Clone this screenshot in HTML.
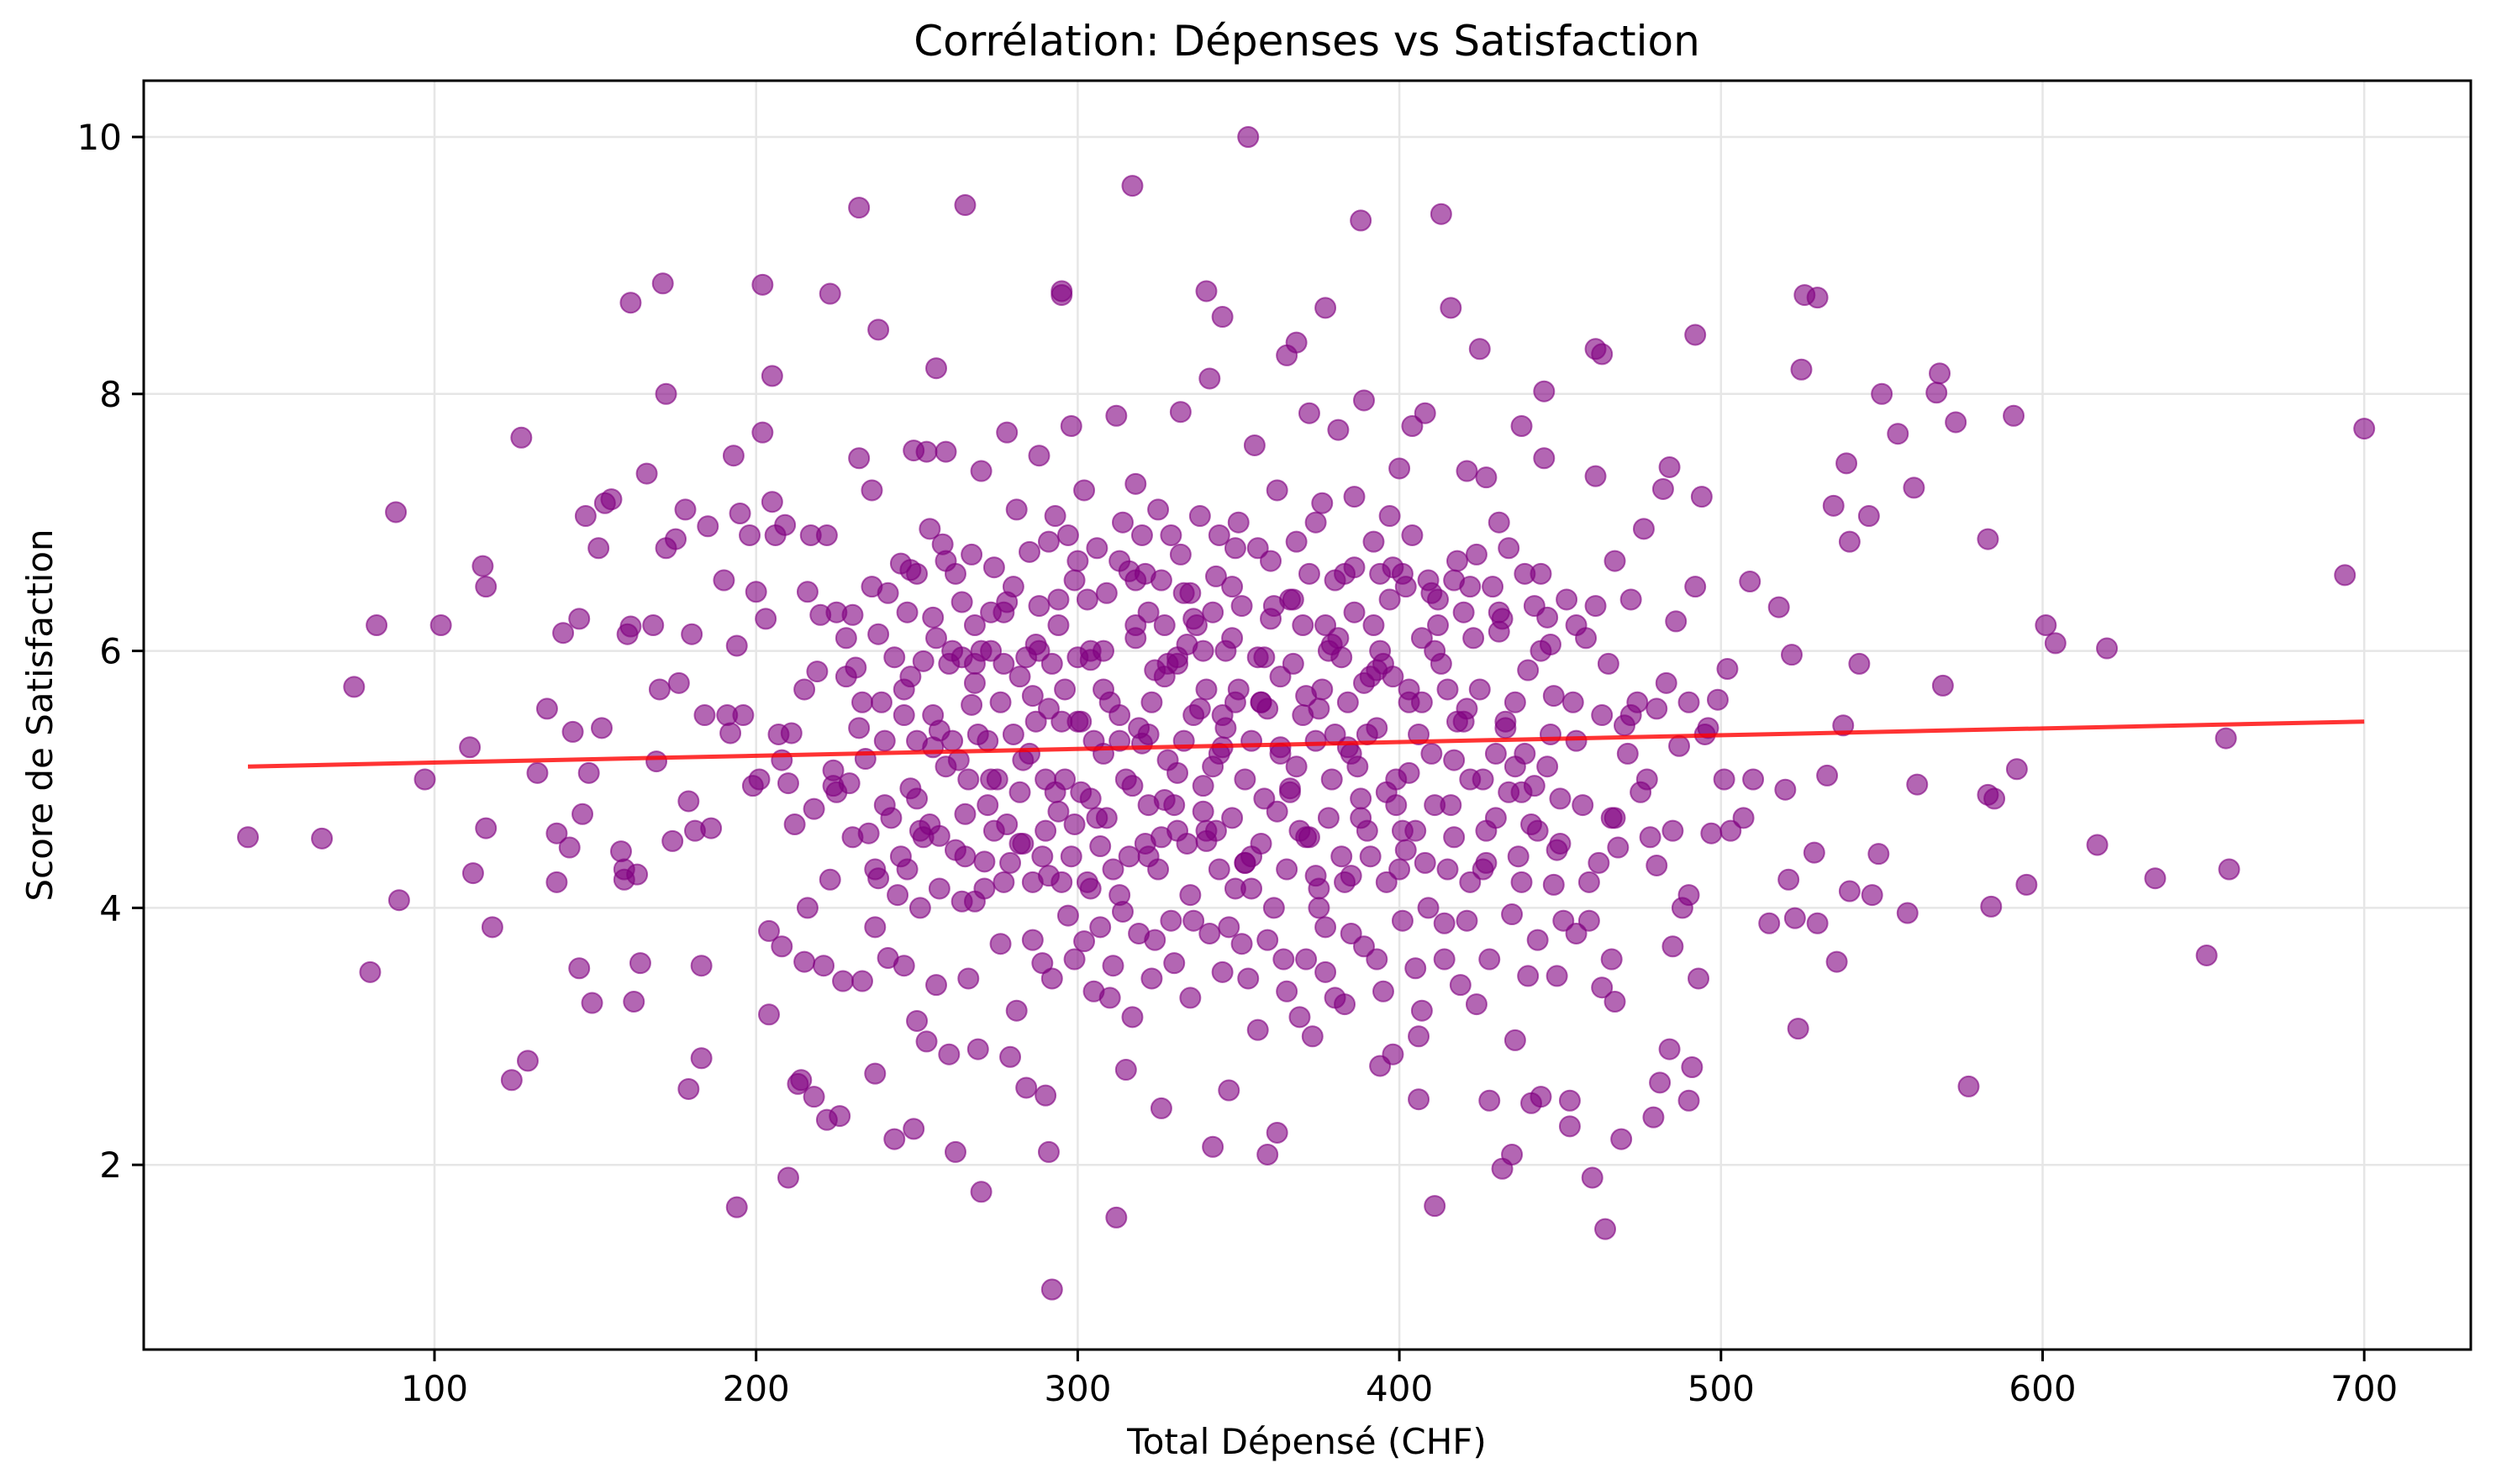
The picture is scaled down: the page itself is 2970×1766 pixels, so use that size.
<!DOCTYPE html>
<html><head><meta charset="utf-8">
<style>
html,body{margin:0;padding:0;background:#fff;}
svg{display:block;font-family:"DejaVu Sans","Liberation Sans",sans-serif;}
</style></head>
<body>
<svg id="chart" width="2970" height="1766" viewBox="0 0 2970 1766" xmlns="http://www.w3.org/2000/svg">
<rect width="2970" height="1766" fill="#fff"/>
<g id="grid"></g>
<g id="points"></g>
<g id="axes"></g>
<text x="1555" y="66" font-size="50" text-anchor="middle">Corrélation: Dépenses vs Satisfaction</text>
<text x="1555" y="1730" font-size="42" text-anchor="middle">Total Dépensé (CHF)</text>
<text x="62" y="851" font-size="42" text-anchor="middle" transform="rotate(-90 62 851)">Score de Satisfaction</text>
</svg>
<script>
const xTicks = [100,200,300,400,500,600,700];
const yTicks = [2,4,6,8,10];
const trendX = [42,700];
const trendY = [5.10,5.45];
const spend = [42,65,75,80,82,88,89,97,102,111,112,115,116,116,118,124,127,129,132,135,138,138,140,142,143,145,145,146,147,148,149,151,152,153,155,158,159,159,160,161,161,162,163,164,166,168,169,170,171,172,172,174,175,176,178,179,179,180,181,183,183,184,185,186,190,191,192,193,194,194,195,196,198,199,200,201,202,202,203,204,204,205,205,206,207,208,208,209,210,210,211,212,213,214,215,215,216,216,217,218,218,219,220,221,222,222,223,223,224,225,225,226,227,228,229,230,231,232,232,233,234,235,236,237,237,238,238,238,239,240,241,242,243,244,245,246,246,247,248,248,249,249,250,250,251,252,253,253,254,255,256,256,257,257,258,259,260,261,262,263,264,265,265,266,267,268,268,269,270,270,271,272,273,274,275,276,277,278,278,279,280,281,282,283,284,285,286,287,288,289,290,290,291,292,292,293,294,295,295,296,297,298,299,300,301,302,303,304,305,306,307,308,310,312,312,313,314,315,316,317,317,318,319,320,321,322,323,324,325,326,327,328,329,330,331,332,333,334,335,336,338,339,340,340,341,342,342,343,344,345,345,346,347,348,349,350,351,352,353,354,355,356,357,358,359,360,361,362,363,364,365,366,367,368,369,370,371,372,373,374,375,376,377,377,378,379,380,381,382,383,384,385,386,387,388,389,390,391,392,393,394,395,396,397,398,399,400,401,402,403,404,405,406,406,407,408,409,410,411,412,413,414,415,416,417,418,419,420,421,422,423,424,425,426,427,428,429,430,431,432,433,434,435,436,437,438,439,440,441,442,443,444,445,445,446,447,448,449,450,452,453,453,454,455,457,458,459,460,461,461,462,463,463,464,465,466,467,467,468,469,470,472,474,476,477,478,479,480,481,482,483,484,484,485,486,487,488,490,490,491,492,492,493,494,495,497,499,501,502,503,507,509,510,515,518,520,521,522,523,524,525,526,529,530,530,533,535,536,538,539,540,540,543,546,547,549,550,555,558,560,561,567,568,569,573,577,583,583,584,585,591,592,595,601,604,617,620,635,651,657,658,694,700,
255,260,262,266,270,272,276,280,282,285,287,289,291,293,294,296,298,300,301,303,305,306,308,310,311,313,315,316,318,319,321,322,324,325,327,328,330,331,333,334,336,337,339,340,342,343,345,346,348,349,351,352,354,356,357,359,360,362,363,365,366,368,369,371,372,374,375,377,378,380,382,383,385,386,388,389,391,393,394,396,398,400,401,403,405,407,409,411,413,415,418,420,422,425,427,430,432,434,436,438,440,442,444,446,448,450,230,233,236,240,243,245,247,250,252,254,257,259,262,264,267,269,271,274,277,279,281,284,286,288,290,292,294,297,299,302,304,307,309,311,314,317,320,323,326,329,332,335,338,341,344,347,350,353,356,359,362,365,368,371,374,377,380,383,386,389,392,395,398,401,404,407,410,414,417,421,424,428,431,435,439,443,447,451,455,459,463,467,471,475,480,485,490,496,
248,251,256,261,265,268,273,278,283,288,291,295,299,304,308,313,318,322,326,331,335,339,344,348,352,357,361,366,370,375,379,384,388,393,397,402,406,411,416,421,426,431,436,441,224,228,232,237,241,246,250,255,259,264,268,273,277,282,286,291,295,300,304,309,313,318,322,327,331,336,340,345,349,354,358,363,367,372,376,381,385,390,394,399,403,408,412,417,422,427,433,438,444,449,455,461,466,472];
const score = [4.55,4.54,5.72,3.5,6.2,7.08,4.06,5.0,6.2,5.25,4.27,6.66,6.5,4.62,3.85,2.66,7.66,2.81,5.05,5.55,4.58,4.2,6.14,4.47,5.37,3.53,6.25,4.73,7.05,5.05,3.26,6.8,5.4,7.15,7.18,4.44,4.3,4.22,6.13,8.71,6.19,3.27,4.26,3.57,7.38,6.2,5.14,5.7,8.86,8.0,6.8,4.52,6.87,5.75,7.1,4.83,2.59,6.13,4.6,3.55,2.83,5.5,6.97,4.62,6.55,5.5,5.36,7.52,1.67,6.04,7.07,5.5,6.9,4.95,6.46,5.0,8.85,7.7,6.25,3.82,3.17,8.14,7.16,6.9,5.35,5.15,3.7,6.98,4.97,1.9,5.36,4.65,2.63,2.66,3.58,5.7,6.46,4.0,6.9,4.77,2.53,5.84,6.28,3.55,2.35,6.9,8.78,4.22,5.07,6.3,4.9,2.38,3.43,5.8,4.97,6.28,5.87,9.45,7.5,3.43,5.16,4.58,7.25,2.71,3.85,8.5,6.13,4.23,5.6,5.3,3.61,4.7,2.2,4.1,6.68,5.5,3.55,4.3,6.63,4.93,7.56,2.28,6.6,3.12,4.0,5.92,7.55,2.96,4.65,6.26,8.2,3.4,5.38,4.56,6.83,7.55,2.86,6.0,2.1,5.15,6.38,9.47,4.73,3.45,5.58,4.05,6.2,2.9,1.79,7.4,4.36,5.3,6.0,4.6,5.0,3.72,4.2,7.7,6.38,2.84,5.35,3.2,5.8,4.5,2.6,6.77,4.2,5.45,7.52,3.57,2.54,4.6,2.1,1.03,5.9,7.05,6.2,8.8,8.77,5.0,3.94,7.75,4.65,6.7,5.45,3.74,4.2,5.93,3.35,6.8,4.48,5.2,3.3,1.59,7.83,5.5,3.97,2.74,6.62,9.62,4.95,7.3,3.8,5.28,4.5,6.3,5.6,3.75,7.1,2.44,4.84,5.9,6.9,3.57,4.6,7.86,5.3,6.05,4.1,3.9,5.55,6.0,8.8,4.52,8.12,2.14,5.1,6.58,4.3,8.6,3.5,5.4,2.58,6.5,4.15,5.7,3.72,5.0,10.0,4.4,7.6,3.05,5.6,4.85,2.08,6.7,4.0,2.25,5.25,3.6,8.3,4.93,5.9,8.4,3.15,6.2,4.55,7.85,3.0,5.3,4.0,7.15,8.67,3.5,6.0,5.0,3.3,7.72,4.4,6.6,5.6,3.8,6.65,5.1,9.35,7.95,4.6,5.8,6.2,3.6,2.77,5.9,4.2,7.05,2.86,5.0,7.42,4.6,6.5,5.7,7.75,3.53,2.51,3.0,6.1,7.85,4.0,5.2,1.68,6.4,9.4,3.88,5.7,8.67,4.55,6.7,3.4,5.45,7.4,4.2,6.1,3.25,8.35,5.0,7.35,2.5,6.5,4.7,7.0,1.97,5.4,6.8,2.08,2.97,4.4,7.75,5.2,3.47,2.48,6.35,4.6,2.53,7.5,8.02,6.26,5.35,4.18,3.47,4.85,6.4,2.5,2.3,5.6,3.8,4.8,6.1,3.9,1.9,8.35,7.36,4.35,8.31,3.38,1.5,5.9,3.6,6.7,3.27,4.47,2.2,5.42,6.4,5.6,6.95,5.0,4.55,2.37,4.33,2.64,7.26,5.75,2.9,7.43,3.7,6.23,5.26,4.0,4.1,2.5,2.76,8.46,6.5,3.45,7.2,5.35,4.58,5.62,5.0,5.86,4.6,4.7,6.54,5.0,3.88,6.34,4.92,4.22,5.97,3.92,3.06,8.19,8.77,4.43,8.75,3.88,5.03,7.13,3.58,5.42,7.46,6.85,4.13,5.9,7.05,4.1,4.42,8.0,7.69,3.96,7.27,4.96,8.01,8.16,5.73,7.78,2.61,6.87,4.88,4.01,4.85,7.83,5.08,4.18,6.2,6.06,4.49,6.02,4.23,3.63,5.32,4.3,6.59,7.73,
5.5,5.9,6.6,5.0,6.0,4.8,5.6,6.5,4.9,5.2,6.05,4.4,5.55,4.9,6.4,5.7,4.4,5.95,4.9,6.4,5.3,4.7,6.0,5.6,4.3,6.7,5.0,4.4,6.1,5.4,6.6,4.8,5.85,4.3,6.2,5.15,4.8,5.9,6.45,4.5,5.5,6.2,4.95,5.7,6.3,4.6,5.25,6.0,4.7,5.6,6.35,4.35,5.3,5.95,4.5,5.55,6.25,4.75,5.8,4.3,6.4,5.1,4.6,5.65,6.6,4.25,5.55,6.2,4.7,5.35,5.95,4.2,5.2,6.3,4.85,5.75,4.4,5.4,6.0,4.9,5.8,4.3,6.6,5.05,4.6,5.6,6.55,4.8,5.9,4.3,5.45,6.3,5.0,5.7,4.35,5.2,6.25,4.9,5.6,4.2,5.85,4.95,6.6,5.1,5.65,4.5,4.55,5.6,6.5,4.8,5.95,4.4,6.3,5.3,4.55,6.95,4.15,5.1,4.45,5.95,6.75,5.35,4.15,6.65,5.9,4.35,7.1,5.95,3.75,6.35,5.0,3.45,4.75,6.9,3.6,7.25,4.15,3.85,6.45,3.55,7.0,3.15,6.9,3.45,6.55,3.9,6.75,3.3,7.05,3.8,6.9,3.85,7.0,3.45,6.8,3.75,7.25,3.35,6.85,3.6,7.0,3.85,6.55,3.25,7.2,3.7,6.85,3.35,6.65,3.9,6.9,3.2,6.45,3.6,6.55,3.9,6.75,3.6,6.3,3.95,6.6,3.75,6.05,3.9,6.2,4.2,5.5,4.7,5.2,4.9,5.55,4.6,5.6,5.4,
5.8,4.6,6.1,5.3,4.4,5.75,6.3,4.65,5.15,6.0,4.25,5.45,6.55,4.85,5.7,4.1,6.2,5.35,4.55,5.95,6.45,4.75,5.2,6.1,4.35,5.6,6.35,4.9,5.5,4.15,6.05,5.25,4.7,5.85,6.4,4.45,5.35,6.0,4.8,5.55,4.3,6.15,5.1,4.65,4.95,6.1,5.4,4.3,6.45,5.7,4.85,5.25,6.7,4.05,5.9,5.0,6.3,4.5,5.65,6.85,4.2,5.45,6.0,4.7,5.3,6.55,4.4,5.8,5.05,6.25,4.6,5.5,6.8,4.15,5.95,5.2,6.4,4.55,5.7,6.1,4.25,5.35,6.6,4.8,5.6,4.35,6.2,5.15,6.5,4.6,5.45,4.9,6.0,4.45,5.3,6.35,4.7,5.5];

const X0=100, PX0=517, XS=3.827;
const Y0=10, PY0=163, YS=152.9;
const L=171, R=2940, T=96, B=1606;
function xs(v){return PX0+(v-X0)*XS;}
function ys(v){return PY0+(Y0-v)*YS;}
const NS='http://www.w3.org/2000/svg';
function mk(tag, attrs, parent){const e=document.createElementNS(NS,tag);for(const k in attrs)e.setAttribute(k,attrs[k]);parent.appendChild(e);return e;}

const grid=document.getElementById('grid');
const axes=document.getElementById('axes');
xTicks.forEach(t=>{
  const g=mk('line',{x1:xs(t),x2:xs(t),y1:T,y2:B,stroke:'#e6e6e6','stroke-width':2.5},grid);
  
  
  const tk=mk('line',{x1:xs(t),x2:xs(t),y1:B,y2:B+14,stroke:'#000','stroke-width':3},axes);
  
  
  const lb=mk('text',{x:xs(t),y:1667,'font-size':42,'text-anchor':'middle'},axes);
  lb.textContent=t;
  
  
});
yTicks.forEach(t=>{
  const g=mk('line',{x1:L,x2:R,y1:ys(t),y2:ys(t),stroke:'#e6e6e6','stroke-width':2.5},grid);
  
  
  const tk=mk('line',{x1:L-14,x2:L,y1:ys(t),y2:ys(t),stroke:'#000','stroke-width':3},axes);
  
  
  const lb=mk('text',{x:L-26,y:ys(t)+15,'font-size':42,'text-anchor':'end'},axes);
  lb.textContent=t;
  
  
});
const frame=mk('rect',{x:L,y:T,width:R-L,height:B-T,fill:'none',stroke:'#000','stroke-width':3},axes);



const pts=document.getElementById('points');
const n=Math.min(spend.length,score.length);
for(let i=0;i<n;i++){
  const c=mk('circle',{cx:xs(spend[i]),cy:ys(score[i]),r:12,fill:'#800080','fill-opacity':0.6,stroke:'#800080','stroke-opacity':0.6,'stroke-width':2},pts);
  
  
}
const tl=mk('line',{x1:xs(trendX[0]),y1:ys(trendY[0]),x2:xs(trendX[1]),y2:ys(trendY[1]),stroke:'#ff0000','stroke-opacity':0.8,'stroke-width':5},pts);


</script>
</body></html>
